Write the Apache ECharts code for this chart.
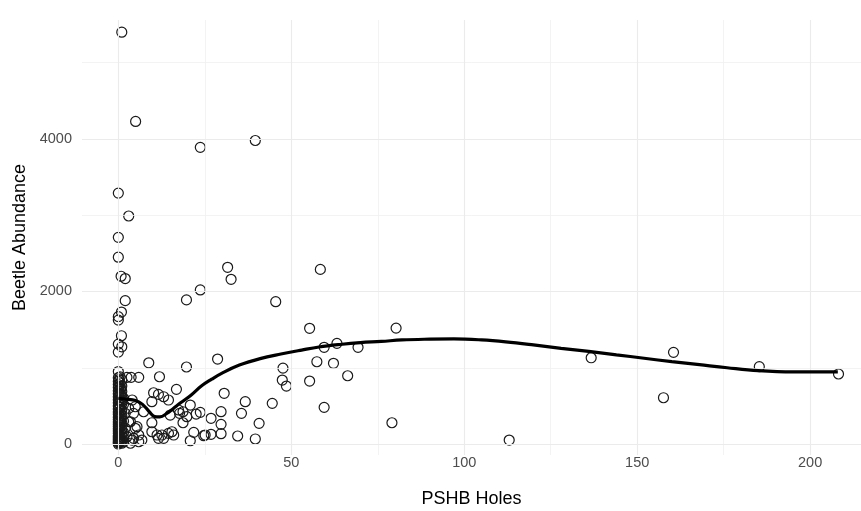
<!DOCTYPE html>
<html>
<head>
<meta charset="utf-8">
<script src="https://cdn.jsdelivr.net/npm/echarts@6/dist/echarts.min.js"></script>
<style>html,body{margin:0;padding:0;background:#fff}#c{width:861px;height:511px}</style>
</head>
<body>
<div id="c"></div>
<script>
// PSHB holes (x) and beetle abundance (y) for each tree
const holes = [
  1, 5, 23.7, 39.6, 0, 3, 0, 0, 0.8, 2, 2, 0.9, 0, 0, 0.9, 0, 1, 0, 8.8, 19.7, 19.7,
  31.6, 32.6, 23.7, 58.4, 45.5, 55.3, 28.7, 59.5, 63.2, 69.3, 47.6, 57.4, 62.2, 66.3,
  47.4, 48.6, 55.3, 59.5, 44.5, 30.6, 36.7, 35.6, 29.7, 29.7, 40.7, 26.8, 23.7, 22.5,
  21.8, 20.8, 24.7, 26.8, 29.7, 34.5, 39.6, 18.7, 19.8, 18.7, 80.3, 79.1, 113, 136.7,
  160.5, 157.6, 185.3, 208.2,
  5.9, 11.9, 2.5, 3.7, 16.8, 10.2, 11.6, 13.1, 14.5, 9.7, 15, 17.7, 9.7, 9.7, 11.2,
  12.6, 14.5, 16, 25.1, 5.9, 4.4, 2.5, 3.5, 4.4, 3, 4.9, 7.3, 4, 5.4, 2, 3.5,
  20.8, 17.4, 11.6, 13.1, 15.5, 4.9, 2, 4, 6.8, 5.9, 3,
  0, 0, 0, 0, 0, 0, 0, 0, 0, 0, 0, 0, 0, 0, 0, 0, 0, 0, 0, 0, 0, 0, 0, 0, 0, 0, 0, 0, 0,
  0.5, 0.5, 0.5, 0.5, 0.5, 0.5, 0.5, 0.5, 0.5, 0.5, 0.5, 0.5, 0.5,
  1, 1, 1, 1, 1, 1, 1, 1, 1, 1, 1, 1,
  1.5, 1.5, 1.5, 1.5, 1.5, 1.5,
  0.2, 0.2, 0.2, 0.2, 0.2, 0.2, 0.2, 0.2, 0.2, 0.2,
  0.8, 0.8, 0.8, 0.8, 0.8, 0.8, 0.8, 0.8
];
const abundance = [
  5400, 4230, 3890, 3980, 3290, 2990, 2710, 2450, 2200, 2170, 1880, 1730, 1670, 1625, 1420, 1310, 1275, 1205, 1065, 1890, 1010,
  2317, 2160, 2020, 2290, 1866, 1517, 1114, 1268, 1320, 1268, 995, 1079, 1058, 895,
  839, 760, 826, 481, 533, 665, 555, 402, 424, 258, 271, 337, 415, 393,
  153, 43, 109, 127, 135, 105, 66, 279, 358, 423, 1520, 279, 52, 1131,
  1202, 607, 1014, 918,
  874, 882, 874, 874, 717, 672, 651, 620, 577, 555, 380, 402, 279, 161, 118,
  118, 140, 118, 118, 30, 75, 96, 292, 402, 468, 489, 423, 577, 227, 206, 10,
  511, 446, 75, 75, 161, 206, 402, 52, 52, 118, 292,
  0, 15, 30, 50, 70, 90, 110, 140, 170, 200, 230, 260, 290, 320, 350, 390, 420, 460, 500, 540, 580, 620, 660, 700, 740, 780, 820, 870, 950,
  20, 60, 100, 160, 250, 330, 410, 480, 560, 640, 720, 800, 880,
  10, 45, 120, 190, 280, 370, 450, 530, 610, 690, 760, 840,
  30, 80, 150, 300, 520, 600,
  35, 125, 215, 305, 395, 485, 575, 665, 755, 845,
  75, 170, 260, 350, 440, 570, 650, 730
];
// smoothed (loess) trend
const trendX = [0, 2, 5, 7, 9, 10.5, 12, 14, 16, 18, 21, 24, 27, 30, 35, 41, 47, 53, 58, 64, 70, 76, 82, 90, 97, 105, 112, 120, 128, 136, 144, 152, 160, 168, 176, 185, 195, 208];
const trendY = [600, 590, 570, 520, 420, 360, 355, 400, 470, 540, 640, 760, 850, 930, 1035, 1120, 1180, 1232, 1272, 1305, 1330, 1345, 1365, 1375, 1378, 1365, 1340, 1300, 1255, 1215, 1170, 1125, 1080, 1040, 1000, 962, 945, 945];
// axis ticks
const xTicks = [0, 50, 100, 150, 200];
const xMinor = [25, 75, 125, 175];
const yTicks = [0, 2000, 4000];
const yMinor = [1000, 3000, 5000];

const pts = holes.map((h, i) => [h, abundance[i]]);
const trend = trendX.map((x, i) => [x, trendY[i]]);

const font = 'Liberation Sans, Arial, sans-serif';
const gridLines = [];
xMinor.forEach(v => gridLines.push({xAxis: v, lineStyle: {color: '#f0f0f0', width: 0.8, type: 'solid'}}));
yMinor.forEach(v => gridLines.push({yAxis: v, lineStyle: {color: '#f0f0f0', width: 0.8, type: 'solid'}}));
xTicks.forEach(v => gridLines.push({xAxis: v, lineStyle: {color: '#ebebeb', width: 1.1, type: 'solid'}}));
yTicks.forEach(v => gridLines.push({yAxis: v, lineStyle: {color: '#ebebeb', width: 1.1, type: 'solid'}}));

const chart = echarts.init(document.getElementById('c'), null, {renderer: 'canvas'});
chart.setOption({
  animation: false,
  backgroundColor: '#ffffff',
  grid: {left: 82, right: 0, top: 20, bottom: 56, containLabel: false, outerBoundsMode: 'none'},
  xAxis: {
    type: 'value', min: -10.5, max: 214.7,
    name: 'PSHB Holes', nameLocation: 'middle', nameGap: 35,
    nameTextStyle: {color: '#000', fontSize: 18, fontFamily: font},
    axisLine: {show: false}, axisTick: {show: false}, splitLine: {show: false},
    axisLabel: {customValues: xTicks, color: '#4d4d4d', fontSize: 14.5, fontFamily: font, margin: 0,
      formatter: v => String(v)}
  },
  yAxis: {
    type: 'value', min: -144, max: 5560,
    name: 'Beetle Abundance', nameLocation: 'middle', nameGap: 51, nameRotate: 90,
    nameTextStyle: {color: '#000', fontSize: 18, fontFamily: font},
    axisLine: {show: false}, axisTick: {show: false}, splitLine: {show: false},
    axisLabel: {customValues: yTicks, color: '#4d4d4d', fontSize: 14.5, fontFamily: font, margin: 10,
      formatter: v => String(v)}
  },
  series: [
    {
      type: 'line', data: [], silent: true, z: 0,
      markLine: {silent: true, symbol: ['none', 'none'], label: {show: false}, animation: false, data: gridLines}
    },
    {
      type: 'scatter', data: pts, symbol: 'circle', symbolSize: 10, z: 2,
      itemStyle: {color: 'rgba(255,255,255,0)', borderColor: '#1a1a1a', borderWidth: 1.2, opacity: 1}
    },
    {
      type: 'line', data: trend, smooth: 0.4, symbol: 'none', z: 5,
      lineStyle: {color: '#000', width: 3.2}
    }
  ]
});
</script>
</body>
</html>
